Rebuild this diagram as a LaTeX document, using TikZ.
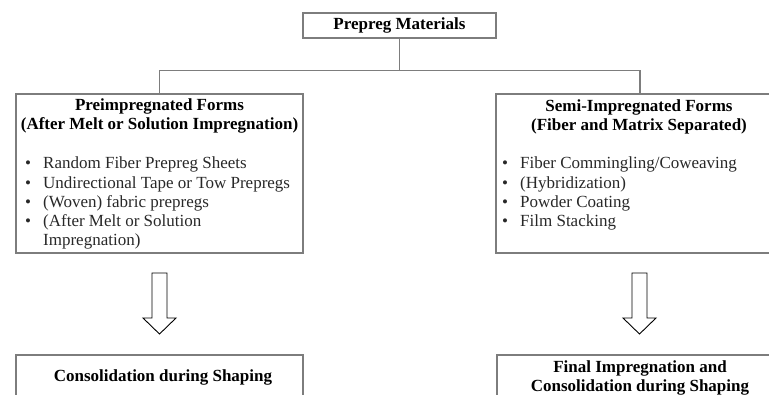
\documentclass[tikz,border=0pt]{standalone}
\usepackage{fontspec}
\setmainfont{Liberation Serif}
\definecolor{linegray}{RGB}{125,125,125}
\definecolor{txtgray}{RGB}{40,40,40}
\begin{document}
\begin{tikzpicture}[x=1pt,y=-1pt,
  font=\fontsize{17}{19}\selectfont,
  box/.style={draw=linegray, line width=1.3pt, rectangle, inner sep=0pt},
  title/.style={align=center, font=\fontsize{17}{18.5}\selectfont\bfseries, inner sep=0pt},
  blist/.style={align=left, anchor=north west, inner sep=0pt, text=txtgray, font=\fontsize{17}{19.2}\selectfont},
  conn/.style={draw=linegray, line width=1.3pt},
  downarrow/.pic={\draw[line width=0.9pt, black] (-7.5,0) -- (-7.5,45) -- (-16.5,45) -- (0,61) -- (16.5,45) -- (7.5,45) -- (7.5,0) -- cycle;}
]
\useasboundingbox (0,0) rectangle (769,394);
\clip (0,0) rectangle (769,394);

\node[box, minimum width=193pt, minimum height=25pt] (top) at (399.5,25.5) {\bfseries Prepreg Materials};

\node[box, minimum width=287pt, minimum height=159pt] (pre) at (159.5,173.5) {};
\node[box, minimum width=288pt, minimum height=159pt] (semi) at (640,173.5) {};

\node[title] (preT) at (159.5,116) {Preimpregnated Forms\\(After Melt or Solution Impregnation)};
\node[title] (semiT) at (639,117) {Semi-Impregnated Forms\\(Fiber and Matrix Separated)};

\newcommand{\bul}{\makebox[18pt][l]{\textbullet}}
\node[blist] (preL) at (25,157) {\bul Random Fiber Prepreg Sheets\\
\bul Undirectional Tape or Tow Prepregs\\
\bul (Woven) fabric prepregs\\
\bul (After Melt or Solution\\
\hspace*{18pt}Impregnation)};
\node[blist] (semiL) at (502,157) {\bul Fiber Commingling/Coweaving\\
\bul (Hybridization)\\
\bul Powder Coating\\
\bul Film Stacking};

\draw[conn] (top.south) -- ++(0,32) coordinate (j);
\draw[conn] (pre.north) |- (j) -| (semi.north);

\coordinate (a1) at (159.5,273);
\coordinate (a2) at (639.5,273);
\pic at (a1) {downarrow};
\pic at (a2) {downarrow};

\node[box, minimum width=287pt, minimum height=80pt] (cons) at (159.5,395) {};
\node[box, minimum width=288pt, minimum height=80pt] (final) at (641,395) {};
\node[title] (consT) at (163,377) {Consolidation during Shaping};
\node[title] (finalT) at (640,378) {Final Impregnation and\\Consolidation during Shaping};
\end{tikzpicture}
\end{document}
